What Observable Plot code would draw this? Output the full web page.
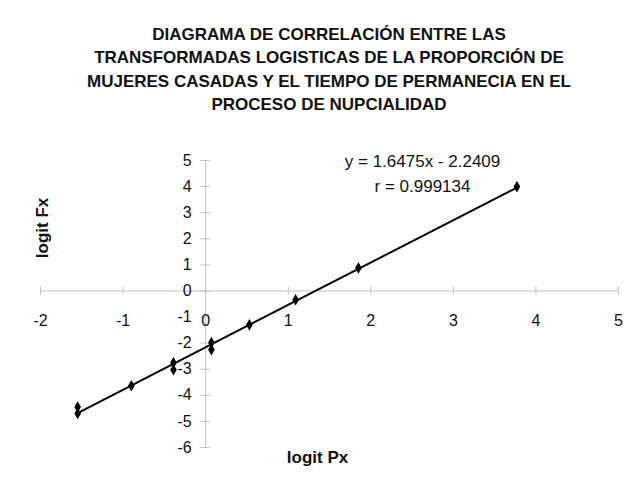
<!DOCTYPE html>
<html>
<head>
<meta charset="utf-8">
<script src="https://cdn.jsdelivr.net/npm/d3@7"></script>
<script src="https://cdn.jsdelivr.net/npm/@observablehq/plot@0.6"></script>
<style>
  html, body { margin: 0; padding: 0; background: #fff; }
  body { width: 638px; height: 489px; overflow: hidden; font-family: Arial, "Liberation Sans", sans-serif; }
  #title {
    box-sizing: border-box; width: 638px; height: 130px;
    padding: 23px 0 0 20px; text-align: center;
    font-weight: bold; font-size: 17px; line-height: 23.4px; color: #111;
  }
  #chart svg { display: block; }
</style>
</head>
<body>
<div id="title">DIAGRAMA DE CORRELACIÓN ENTRE LAS<br>TRANSFORMADAS LOGISTICAS DE LA PROPORCIÓN DE<br>MUJERES CASADAS Y EL TIEMPO DE PERMANECIA EN EL<br>PROCESO DE NUPCIALIDAD</div>
<div id="chart"></div>
<script>
// Data
const logitPx = [-1.55, -1.55, -0.90, -0.39, -0.39, 0.07, 0.07, 0.53, 1.09, 1.85, 3.77];
const logitFx = [-4.45, -4.70, -3.63, -2.75, -3.02, -1.98, -2.25, -1.30, -0.34, 0.88, 4.00];
const xTicks = [-2, -1, 0, 1, 2, 3, 4, 5];
const yTicks = [-6, -5, -4, -3, -2, -1, 0, 1, 2, 3, 4, 5];
const equationText = "y = 1.6475x - 2.2409\nr = 0.999134";

const data = logitPx.map((x, i) => ({x, y: logitFx[i]}));
const axisColor = "#c4c4c4";

const chart = Plot.plot({
  width: 638,
  height: 359,
  marginLeft: 40,
  marginRight: 20,
  marginTop: 30,
  marginBottom: 42,
  style: {fontFamily: "Arial, 'Liberation Sans', sans-serif", color: "#111", background: "#fff"},
  x: {domain: [-2, 5], axis: null},
  y: {domain: [-6, 5], axis: null},
  marks: [
    Plot.ruleY([0], {stroke: axisColor, strokeWidth: 1}),
    Plot.ruleX([0], {stroke: axisColor, strokeWidth: 1}),
    Plot.ruleY(yTicks, {y: d => d, x1: 0, x2: 0, insetLeft: -5, insetRight: -5, stroke: axisColor}),
    Plot.ruleX(xTicks, {x: d => d, y1: 0, y2: 0, insetTop: -4, insetBottom: -4, stroke: axisColor}),
    Plot.text(yTicks, {x: 0, y: d => d, text: d => String(d), textAnchor: "end", dx: -14, fontSize: 16, fill: "#111"}),
    Plot.text(xTicks, {x: d => d, y: 0, text: d => String(d), dy: 30, fontSize: 16, fill: "#111"}),
    Plot.linearRegressionY(data, {x: "x", y: "y", ci: 0, stroke: "#000", strokeWidth: 2}),
    Plot.dot(data, {x: "x", y: "y", symbol: "diamond", r: 2.6, fill: "#000", stroke: "#000"}),
    Plot.text([equationText], {frameAnchor: "top", text: d => d, dx: 93, dy: -11, lineAnchor: "top", lineHeight: 1.45, fontSize: 17, fill: "#111"}),
    Plot.text(["logit Fx"], {frameAnchor: "left", text: d => d, textAnchor: "middle", rotate: -90, dx: 2, dy: -76, fontSize: 17, fontWeight: "bold", fill: "#111"}),
    Plot.text(["logit Px"], {frameAnchor: "bottom", text: d => d, dx: -12, dy: 15, fontSize: 17, fontWeight: "bold", fill: "#111"})
  ]
});
document.getElementById("chart").appendChild(chart);
</script>
</body>
</html>
